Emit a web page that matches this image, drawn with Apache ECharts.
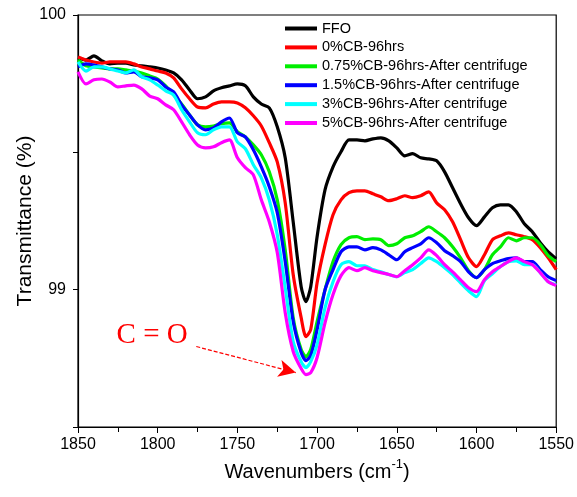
<!DOCTYPE html>
<html>
<head>
<meta charset="utf-8">
<script src="https://cdn.jsdelivr.net/npm/echarts@6/dist/echarts.min.js"></script>
<style>
  html, body { margin: 0; padding: 0; background: #fff; }
  #chart { width: 577px; height: 497px; }
</style>
</head>
<body>
<div id="chart"></div>
<script>
// FTIR transmittance spectra, carbonyl region
const wavenumbers = [1850, 1845, 1840, 1835, 1830, 1825, 1820, 1815, 1810, 1805,
  1800, 1795, 1790, 1785, 1780, 1775, 1770, 1765, 1760, 1755,
  1750, 1745, 1740, 1735, 1730, 1725, 1720, 1715, 1710, 1707,
  1704, 1700, 1695, 1690, 1685, 1680, 1675, 1670, 1665, 1660,
  1655, 1650, 1645, 1640, 1635, 1630, 1625, 1620, 1615, 1610,
  1605, 1600, 1595, 1590, 1585, 1580, 1575, 1570, 1565, 1560,
  1555, 1550];

const ffo = [99.844, 99.836, 99.851, 99.833, 99.822, 99.825, 99.825, 99.818, 99.815, 99.811,
  99.807, 99.800, 99.789, 99.764, 99.727, 99.695, 99.702, 99.724, 99.735, 99.742,
  99.749, 99.742, 99.702, 99.676, 99.662, 99.593, 99.480, 99.247, 99.011, 98.956,
  99.011, 99.193, 99.364, 99.447, 99.502, 99.545, 99.545, 99.542, 99.549, 99.553,
  99.542, 99.516, 99.487, 99.495, 99.480, 99.476, 99.469, 99.429, 99.371, 99.313,
  99.262, 99.233, 99.265, 99.298, 99.309, 99.309, 99.284, 99.240, 99.211, 99.171,
  99.138, 99.113];

const cb0 = [99.847, 99.836, 99.829, 99.825, 99.829, 99.829, 99.829, 99.822, 99.811, 99.804,
  99.796, 99.789, 99.771, 99.731, 99.695, 99.665, 99.662, 99.676, 99.684, 99.684,
  99.680, 99.662, 99.633, 99.596, 99.535, 99.465, 99.316, 99.055, 98.898, 98.829,
  98.855, 99.025, 99.164, 99.273, 99.327, 99.353, 99.360, 99.360, 99.349, 99.338,
  99.324, 99.331, 99.342, 99.335, 99.342, 99.356, 99.316, 99.291, 99.247, 99.182,
  99.116, 99.084, 99.127, 99.182, 99.196, 99.207, 99.200, 99.193, 99.182, 99.153,
  99.116, 99.073];

const cb075 = [99.836, 99.815, 99.811, 99.807, 99.804, 99.804, 99.800, 99.796, 99.789, 99.778,
  99.767, 99.742, 99.709, 99.676, 99.636, 99.600, 99.593, 99.596, 99.604, 99.607,
  99.575, 99.556, 99.527, 99.491, 99.429, 99.327, 99.145, 98.898, 98.782, 98.756,
  98.782, 98.884, 99.000, 99.102, 99.164, 99.189, 99.193, 99.182, 99.185, 99.182,
  99.160, 99.167, 99.189, 99.196, 99.211, 99.229, 99.211, 99.189, 99.156, 99.116,
  99.069, 99.044, 99.073, 99.127, 99.156, 99.189, 99.178, 99.189, 99.189, 99.164,
  99.124, 99.102];

const cb15 = [99.811, 99.822, 99.818, 99.811, 99.804, 99.800, 99.789, 99.793, 99.775, 99.771,
  99.764, 99.738, 99.720, 99.673, 99.636, 99.600, 99.582, 99.589, 99.611, 99.625,
  99.571, 99.556, 99.509, 99.447, 99.375, 99.280, 99.102, 98.884, 98.771, 98.742,
  98.760, 98.855, 99.000, 99.073, 99.138, 99.156, 99.156, 99.145, 99.153, 99.145,
  99.127, 99.109, 99.138, 99.153, 99.167, 99.189, 99.171, 99.142, 99.124, 99.102,
  99.065, 99.044, 99.073, 99.095, 99.105, 99.113, 99.116, 99.102, 99.102, 99.073,
  99.047, 99.033];

const cb3 = [99.829, 99.796, 99.811, 99.811, 99.804, 99.796, 99.789, 99.800, 99.775, 99.764,
  99.745, 99.724, 99.709, 99.655, 99.611, 99.571, 99.564, 99.582, 99.593, 99.593,
  99.538, 99.513, 99.455, 99.407, 99.327, 99.200, 99.007, 98.811, 98.738, 98.716,
  98.738, 98.800, 98.935, 99.029, 99.091, 99.102, 99.087, 99.087, 99.073, 99.065,
  99.055, 99.047, 99.062, 99.073, 99.095, 99.116, 99.102, 99.080, 99.055, 99.025,
  98.996, 98.975, 99.033, 99.058, 99.084, 99.102, 99.105, 99.091, 99.091, 99.062,
  99.029, 99.018];

const cb5 = [99.793, 99.749, 99.764, 99.767, 99.756, 99.738, 99.742, 99.745, 99.731, 99.705,
  99.695, 99.673, 99.655, 99.611, 99.564, 99.527, 99.516, 99.520, 99.535, 99.545,
  99.480, 99.444, 99.418, 99.327, 99.247, 99.135, 98.916, 98.775, 98.713, 98.691,
  98.698, 98.753, 98.880, 98.982, 99.051, 99.080, 99.069, 99.080, 99.069, 99.062,
  99.055, 99.047, 99.069, 99.091, 99.116, 99.145, 99.124, 99.091, 99.065, 99.036,
  99.007, 98.993, 99.036, 99.065, 99.084, 99.102, 99.116, 99.102, 99.091, 99.062,
  99.029, 99.015];

const seriesNames = ['FFO', '0%CB-96hrs', '0.75%CB-96hrs-After centrifuge',
  '1.5%CB-96hrs-After centrifuge', '3%CB-96hrs-After centrifuge', '5%CB-96hrs-After centrifuge'];
const seriesValues = [ffo, cb0, cb075, cb15, cb3, cb5];
const seriesColors = ['#000000', '#ff0000', '#00ee00', '#0000ff', '#00ffff', '#ff00ff'];

// Carbonyl annotation: label anchor and arrow (wavenumber, transmittance)
const bandLabel = 'C = O';
const bandLabelAt = [1803.5, 98.833];
const arrowFrom = [1775.8, 98.793];
const arrowTo = [1713.4, 98.698];

const FONT = 'Liberation Sans, Arial, sans-serif';

const chart = echarts.init(document.getElementById('chart'), null, { renderer: 'canvas' });

const series = seriesNames.map((name, k) => ({
  name: name,
  type: 'line',
  data: wavenumbers.map((w, i) => [w, seriesValues[k][i]]),
  symbol: 'none',
  smooth: 0.25,
  lineStyle: { color: seriesColors[k], width: 3.2 },
  itemStyle: { color: seriesColors[k] },
  z: 2 + k
}));

// annotation rides on the last series
series[5].markLine = {
  silent: true,
  symbol: ['none', 'arrow'],
  symbolSize: [13, 17],
  lineStyle: { color: '#ff0000', type: [4, 2], width: 1.2 },
  label: { show: false },
  data: [[{ coord: arrowFrom }, { coord: arrowTo }]]
};
series[5].markPoint = {
  silent: true,
  symbol: 'circle',
  symbolSize: 0,
  label: {
    show: true,
    position: 'inside',
    formatter: bandLabel,
    color: '#ff0000',
    fontSize: 29,
    fontFamily: 'Liberation Serif, DejaVu Serif, serif'
  },
  data: [{ coord: bandLabelAt }]
};

chart.setOption({
  animation: false,
  backgroundColor: '#ffffff',
  grid: {
    left: 78, right: 18, top: 15, bottom: 70,
    show: true, borderColor: '#000', borderWidth: 1.2, backgroundColor: 'transparent'
  },
  legend: {
    orient: 'vertical',
    left: 285,
    top: 21,
    padding: 0,
    icon: 'rect',
    itemWidth: 32,
    itemHeight: 4,
    itemGap: 3.9,
    textStyle: { fontFamily: FONT, fontSize: 14.5, color: '#000' },
    data: seriesNames
  },
  xAxis: {
    type: 'value',
    inverse: true,
    min: 1550,
    max: 1850,
    interval: 50,
    name: '{a|Wavenumbers (cm}{s|-1}{a|)}',
    nameLocation: 'middle',
    nameGap: 31,
    nameMoveOverlap: false,
    nameTextStyle: {
      rich: {
        a: { fontFamily: FONT, fontSize: 20, color: '#000', lineHeight: 24, verticalAlign: 'bottom' },
        s: { fontFamily: FONT, fontSize: 13, color: '#000', lineHeight: 24, verticalAlign: 'top' }
      }
    },
    axisLine: { show: true, lineStyle: { color: '#000', width: 1.2 } },
    axisTick: { show: true, inside: false, length: 6, lineStyle: { color: '#000' } },
    minorTick: { show: true, splitNumber: 2, length: 5, lineStyle: { color: '#000' } },
    axisLabel: { fontFamily: FONT, fontSize: 16, color: '#000', margin: 10, formatter: v => String(v) },
    splitLine: { show: false }
  },
  yAxis: {
    type: 'value',
    min: 98.5,
    max: 100,
    interval: 0.5,
    name: 'Transmittance (%)',
    nameLocation: 'middle',
    nameGap: 42,
    nameMoveOverlap: false,
    nameTextStyle: { fontFamily: FONT, fontSize: 21, color: '#000' },
    axisLine: { show: true, lineStyle: { color: '#000', width: 1.2 } },
    axisTick: { show: true, inside: false, length: 5, lineStyle: { color: '#000' } },
    axisLabel: {
      fontFamily: FONT, fontSize: 16, color: '#000', margin: 12,
      formatter: v => (Math.abs(v - Math.round(v)) < 1e-6 ? String(Math.round(v)) : '')
    },
    splitLine: { show: false }
  },
  series: series
});
</script>
</body>
</html>
